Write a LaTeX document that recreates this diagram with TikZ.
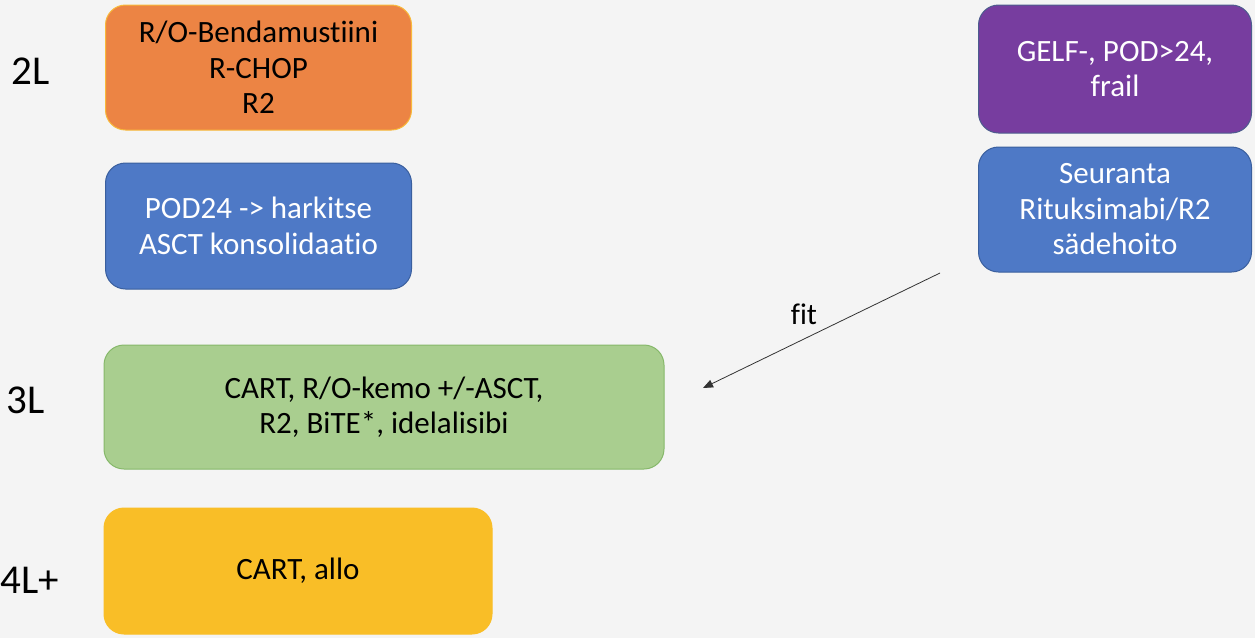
\documentclass[tikz,border=0pt]{standalone}
\usepackage{fontspec}
\setmainfont{Carlito}[Ligatures=NoCommon]
\usetikzlibrary{arrows.meta}
\definecolor{bg}{HTML}{F4F4F4}
\definecolor{orangef}{HTML}{EC8444}
\definecolor{oranged}{HTML}{F8B93A}
\definecolor{bluef}{HTML}{4E79C6}
\definecolor{blued}{HTML}{3A5F9E}
\definecolor{greenf}{HTML}{A9CE8F}
\definecolor{greend}{HTML}{86B86A}
\definecolor{yellowf}{HTML}{F9BE27}
\definecolor{purplef}{HTML}{773D9F}
\definecolor{purpled}{HTML}{4D5C8E}
\tikzset{
  box/.style={rounded corners=20pt, line width=1pt, align=center, inner sep=0pt,
    font=\fontsize{31}{35.5}\selectfont},
  lvl/.style={font=\fontsize{41}{44}\selectfont, inner sep=0pt},
}
\begin{document}
\begin{tikzpicture}[x=1pt,y=-1pt]
\fill[bg] (0,0) rectangle (1255,638);
\useasboundingbox (0,0) rectangle (1255,638);
\node[lvl] (l2) at (31,71) {2L};
\node[lvl] (l3) at (26,400) {3L};
\node[lvl] (l4) at (30,580) {4L+};
\node[box, fill=orangef, draw=oranged, minimum width=306pt, minimum height=125pt] (or) at (258.5,67.5) {R/O-Bendamustiini\\R-CHOP\\R2};
\node[box, fill=bluef, draw=blued, text=white, minimum width=306pt, minimum height=126pt] (b1) at (258.5,226) {POD24 -> harkitse\\ASCT konsolidaatio};
\node[box, fill=greenf, draw=greend, minimum width=560pt, minimum height=124pt] (gr) at (384,407) {CART, R/O-kemo +/-ASCT,\\R2, BiTE*, idelalisibi};
\node[box, fill=yellowf, draw=yellowf, minimum width=388pt, minimum height=126pt] (ye) at (298,571) {CART, allo};
\node[box, fill=purplef, draw=purpled, text=white, minimum width=273pt, minimum height=128pt] (pu) at (1115,69) {GELF-, POD>24,\\frail};
\node[box, fill=bluef, draw=blued, text=white, minimum width=273pt, minimum height=125pt] (b2) at (1115,209.5) {Seuranta\\Rituksimabi/R2\\sädehoito};
\coordinate (as) at (940,273);
\coordinate (ae) at (703,388);
\draw[-{Triangle[length=10pt,width=8pt]}, line width=0.8pt, black!80] (as) -- (ae);
\node[font=\fontsize{30}{34}\selectfont, inner sep=0pt] (fit) at (804,314) {fit};
\end{tikzpicture}
\end{document}
